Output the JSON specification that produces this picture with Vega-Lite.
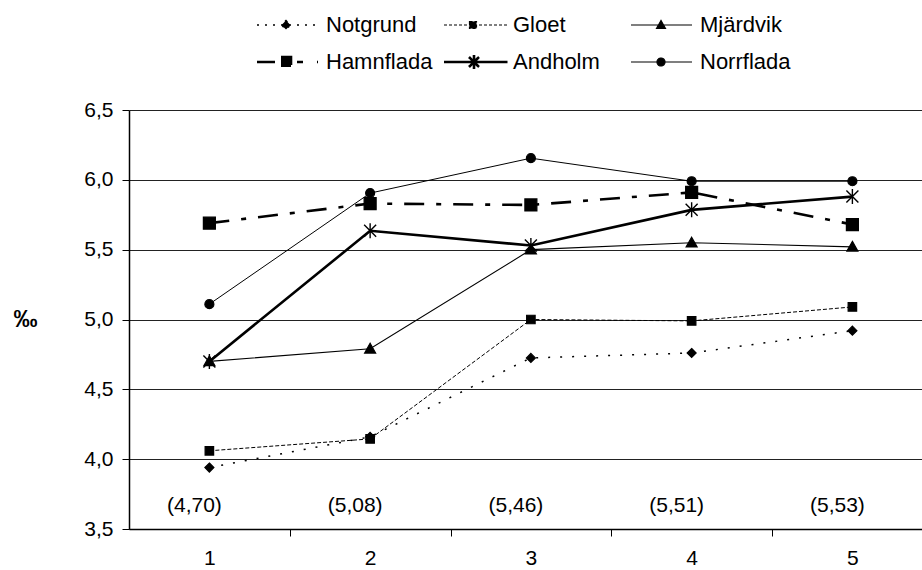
{
  "$schema": "https://vega.github.io/schema/vega-lite/v6.json",
  "width": 793,
  "height": 419,
  "autosize": {"type": "none"},
  "padding": {"left": 129, "top": 110, "right": 0, "bottom": 41},
  "background": "white",
  "config": {
    "font": "Liberation Sans",
    "view": {"stroke": null},
    "legend": {
      "orient": "none",
      "legendX": 128,
      "legendY": -97,
      "columns": 3,
      "direction": "horizontal",
      "gridAlign": "all",
      "columnPadding": 5,
      "rowPadding": 12,
      "labelFontSize": 22,
      "labelColor": "black",
      "labelFont": "Liberation Sans",
      "labelOffset": 47,
      "symbolSize": 100,
      "symbolOpacity": 1,
      "symbolFillColor": "black",
      "symbolStrokeColor": "black"
    }
  },
  "datasets": {
    "salinity": [
      {"series": "Notgrund", "x": 1, "value": 3.94},
      {"series": "Notgrund", "x": 2, "value": 4.16},
      {"series": "Notgrund", "x": 3, "value": 4.725},
      {"series": "Notgrund", "x": 4, "value": 4.76},
      {"series": "Notgrund", "x": 5, "value": 4.92},
      {"series": "Gloet", "x": 1, "value": 4.06},
      {"series": "Gloet", "x": 2, "value": 4.145},
      {"series": "Gloet", "x": 3, "value": 5.0},
      {"series": "Gloet", "x": 4, "value": 4.99},
      {"series": "Gloet", "x": 5, "value": 5.09},
      {"series": "Mjärdvik", "x": 1, "value": 4.7},
      {"series": "Mjärdvik", "x": 2, "value": 4.79},
      {"series": "Mjärdvik", "x": 3, "value": 5.5},
      {"series": "Mjärdvik", "x": 4, "value": 5.55},
      {"series": "Mjärdvik", "x": 5, "value": 5.52},
      {"series": "Hamnflada", "x": 1, "value": 5.69},
      {"series": "Hamnflada", "x": 2, "value": 5.83},
      {"series": "Hamnflada", "x": 3, "value": 5.82},
      {"series": "Hamnflada", "x": 4, "value": 5.91},
      {"series": "Hamnflada", "x": 5, "value": 5.68},
      {"series": "Andholm", "x": 1, "value": 4.7},
      {"series": "Andholm", "x": 2, "value": 5.635},
      {"series": "Andholm", "x": 3, "value": 5.53},
      {"series": "Andholm", "x": 4, "value": 5.785},
      {"series": "Andholm", "x": 5, "value": 5.88},
      {"series": "Norrflada", "x": 1, "value": 5.11},
      {"series": "Norrflada", "x": 2, "value": 5.905},
      {"series": "Norrflada", "x": 3, "value": 6.155},
      {"series": "Norrflada", "x": 4, "value": 5.99},
      {"series": "Norrflada", "x": 5, "value": 5.99}
    ],
    "means": [
      {"x": 1, "label": "(4,70)"},
      {"x": 2, "label": "(5,08)"},
      {"x": 3, "label": "(5,46)"},
      {"x": 4, "label": "(5,51)"},
      {"x": 5, "label": "(5,53)"}
    ]
  },
  "data": {"name": "salinity"},
  "layer": [
    {
      "transform": [{"filter": "datum.series === 'Notgrund'"}],
      "mark": {"type": "line", "color": "black", "strokeWidth": 1.5, "strokeDash": [2, 10]},
      "encoding": {
        "x": {
          "field": "x", "type": "quantitative",
          "scale": {"domain": [0.5, 5.433], "nice": false, "zero": false},
          "axis": {
            "values": [1, 1.5, 2, 2.5, 3, 3.5, 4, 4.5, 5],
            "labelExpr": "datum.value % 1 === 0 ? format(datum.value, 'd') : ''",
            "labelOverlap": false,
            "labelFlush": false,
            "grid": false,
            "tickSize": 7,
            "tickColor": "black",
            "tickOpacity": {"condition": {"test": "datum.value % 1 !== 0", "value": 1}, "value": 0},
            "labelFontSize": 21,
            "labelPadding": 11,
            "labelColor": "black",
            "domainColor": "black",
            "domainWidth": 1.5,
            "title": null
          }
        },
        "y": {
          "field": "value", "type": "quantitative",
          "scale": {"domain": [3.5, 6.5], "nice": false, "zero": false},
          "axis": {
            "values": [3.5, 4, 4.5, 5, 5.5, 6, 6.5],
            "labelExpr": "replace(format(datum.value, '.1f'), '.', ',')",
            "labelFontSize": 21,
            "labelColor": "black",
            "labelPadding": 9,
            "tickSize": 7,
            "tickColor": "black",
            "domainColor": "black",
            "domainWidth": 1.5,
            "gridColor": "#222222",
            "gridWidth": 1,
            "gridOpacity": 1,
            "title": "‰",
            "titleAngle": 0,
            "titleX": -104,
            "titleY": 209,
            "titleAlign": "center",
            "titleBaseline": "middle",
            "titleFontSize": 24,
            "titleFontWeight": "bold",
            "titleColor": "black"
          }
        }
      }
    },
    {
      "transform": [{"filter": "datum.series === 'Gloet'"}],
      "mark": {"type": "line", "color": "black", "strokeWidth": 1, "strokeDash": [4, 2]},
      "encoding": {"x": {"field": "x", "type": "quantitative"}, "y": {"field": "value", "type": "quantitative"}}
    },
    {
      "transform": [{"filter": "datum.series === 'Mjärdvik'"}],
      "mark": {"type": "line", "color": "black", "strokeWidth": 1.1},
      "encoding": {"x": {"field": "x", "type": "quantitative"}, "y": {"field": "value", "type": "quantitative"}}
    },
    {
      "transform": [{"filter": "datum.series === 'Hamnflada'"}],
      "mark": {"type": "line", "color": "black", "strokeWidth": 2.6, "strokeDash": [20, 12, 5, 12]},
      "encoding": {"x": {"field": "x", "type": "quantitative"}, "y": {"field": "value", "type": "quantitative"}}
    },
    {
      "transform": [{"filter": "datum.series === 'Andholm'"}],
      "mark": {"type": "line", "color": "black", "strokeWidth": 2.6},
      "encoding": {"x": {"field": "x", "type": "quantitative"}, "y": {"field": "value", "type": "quantitative"}}
    },
    {
      "transform": [{"filter": "datum.series === 'Norrflada'"}],
      "mark": {"type": "line", "color": "black", "strokeWidth": 1},
      "encoding": {"x": {"field": "x", "type": "quantitative"}, "y": {"field": "value", "type": "quantitative"}}
    },
    {
      "transform": [{"filter": "datum.series === 'Notgrund'"}],
      "mark": {"type": "point", "shape": "M0,-0.9L0.9,0L0,0.9L-0.9,0Z", "size": 100, "filled": true, "fill": "black", "stroke": "black", "strokeWidth": 1.2, "opacity": 1},
      "encoding": {"x": {"field": "x", "type": "quantitative"}, "y": {"field": "value", "type": "quantitative"}}
    },
    {
      "transform": [{"filter": "datum.series === 'Gloet'"}],
      "mark": {"type": "point", "shape": "M-0.85,-0.85L0.85,-0.85L0.85,0.85L-0.85,0.85Z", "size": 100, "filled": true, "fill": "black", "stroke": "black", "strokeWidth": 1.2, "opacity": 1},
      "encoding": {"x": {"field": "x", "type": "quantitative"}, "y": {"field": "value", "type": "quantitative"}}
    },
    {
      "transform": [{"filter": "datum.series === 'Mjärdvik'"}],
      "mark": {"type": "point", "shape": "M0,-1.1L1.1,0.85L-1.1,0.85Z", "size": 100, "filled": true, "fill": "black", "stroke": "black", "strokeWidth": 1.2, "opacity": 1},
      "encoding": {"x": {"field": "x", "type": "quantitative"}, "y": {"field": "value", "type": "quantitative"}}
    },
    {
      "transform": [{"filter": "datum.series === 'Hamnflada'"}],
      "mark": {"type": "point", "shape": "M-1.2,-1.2L1.2,-1.2L1.2,1.2L-1.2,1.2Z", "size": 100, "filled": true, "fill": "black", "stroke": "black", "strokeWidth": 1.2, "opacity": 1},
      "encoding": {"x": {"field": "x", "type": "quantitative"}, "y": {"field": "value", "type": "quantitative"}}
    },
    {
      "transform": [{"filter": "datum.series === 'Andholm'"}],
      "mark": {"type": "point", "shape": "M0,-1.5L0,1.5M-1.2,-1.2L1.2,1.2M-1.2,1.2L1.2,-1.2", "size": 100, "filled": true, "fill": "black", "stroke": "black", "strokeWidth": 1.4, "opacity": 1},
      "encoding": {"x": {"field": "x", "type": "quantitative"}, "y": {"field": "value", "type": "quantitative"}}
    },
    {
      "transform": [{"filter": "datum.series === 'Norrflada'"}],
      "mark": {"type": "point", "shape": "M-0.9,0A0.9,0.9 0 1,0 0.9,0A0.9,0.9 0 1,0 -0.9,0Z", "size": 100, "filled": true, "fill": "black", "stroke": "black", "strokeWidth": 1.2, "opacity": 1},
      "encoding": {"x": {"field": "x", "type": "quantitative"}, "y": {"field": "value", "type": "quantitative"}}
    },
    {
      "mark": {"type": "point", "size": 100, "filled": true, "fill": "black", "opacity": 0},
      "encoding": {
        "x": {"field": "x", "type": "quantitative"},
        "y": {"field": "value", "type": "quantitative"},
        "shape": {
          "field": "series", "type": "nominal",
          "scale": {
            "domain": ["Notgrund", "Gloet", "Mjärdvik", "Hamnflada", "Andholm", "Norrflada"],
            "range": [
              "M-2.2,0L10,0M3.6,-0.9L4.5,0L3.6,0.9L2.7,0Z",
              "M-2.2,0L10.5,0M2.9,-0.7L4.3,-0.7L4.3,0.7L2.9,0.7Z",
              "M-2.2,0L10,0M3.8,-0.9L4.7,0.7L2.9,0.7Z",
              "M-2.2,0L10,0M2.6,-1L4.6,-1L4.6,1L2.6,1Z",
              "M-2.2,0L10.5,0M3.8,-1.4L3.8,1.4M2.8,-1L4.8,1M2.8,1L4.8,-1",
              "M-2.2,0L10,0M3,0A0.8,0.8 0 1,0 4.6,0A0.8,0.8 0 1,0 3,0Z"
            ]
          },
          "legend": {"title": null}
        },
        "stroke": {
          "field": "series", "type": "nominal",
          "scale": {
            "domain": ["Notgrund", "Gloet", "Mjärdvik", "Hamnflada", "Andholm", "Norrflada"],
            "range": ["black", "black", "black", "black", "black", "black"]
          },
          "legend": {"title": null}
        },
        "strokeDash": {
          "field": "series", "type": "nominal",
          "scale": {
            "domain": ["Notgrund", "Gloet", "Mjärdvik", "Hamnflada", "Andholm", "Norrflada"],
            "range": [[2, 6], [3, 2], [1, 0], [18, 22, 6, 14], [1, 0], [1, 0]]
          },
          "legend": {"title": null}
        },
        "strokeWidth": {
          "field": "series", "type": "nominal",
          "scale": {
            "type": "ordinal",
            "domain": ["Notgrund", "Gloet", "Mjärdvik", "Hamnflada", "Andholm", "Norrflada"],
            "range": [1.5, 1.2, 1.2, 2.6, 2.6, 1.2]
          },
          "legend": {"title": null}
        }
      }
    },
    {
      "data": {"name": "means"},
      "mark": {"type": "text", "fontSize": 21, "color": "black", "dx": -15, "dy": -23, "baseline": "middle", "align": "center"},
      "encoding": {
        "x": {"field": "x", "type": "quantitative"},
        "y": {"datum": 3.5},
        "text": {"field": "label"}
      }
    }
  ]
}
